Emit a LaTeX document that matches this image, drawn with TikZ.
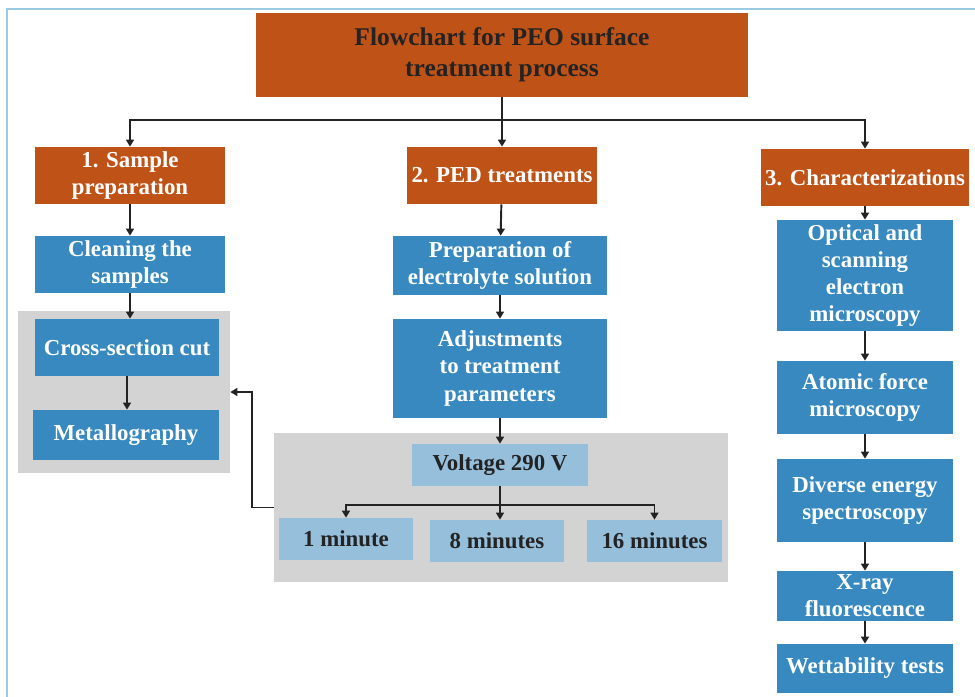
\documentclass[tikz,border=0pt]{standalone}
\usepackage{fontspec}
\setmainfont{Liberation Serif}
\usetikzlibrary{arrows.meta,positioning}
\definecolor{morange}{RGB}{191,82,23}
\definecolor{mblue}{RGB}{55,137,192}
\definecolor{mlblue}{RGB}{150,191,220}
\definecolor{mgray}{RGB}{211,211,211}
\definecolor{mframe}{RGB}{155,203,227}
\definecolor{mdark}{RGB}{35,35,35}

\begin{document}
\begin{tikzpicture}[x=0.02cm, y=-0.02cm,
    cat/.style={fill=morange, text=white, inner sep=0pt, align=center,
                font=\bfseries\fontsize{13}{15.5}\selectfont},
    box/.style={fill=mblue, text=white, inner sep=0pt, align=center,
                font=\bfseries\fontsize{13}{15.5}\selectfont},
    sub/.style={fill=mlblue, text=mdark, inner sep=0pt, align=center,
                minimum height=0.84cm, font=\bfseries\fontsize{13}{15.5}\selectfont},
    panel/.style={fill=mgray, inner sep=0pt},
    line/.style={mdark, line width=1.1pt},
    arr/.style={-{Triangle[length=4pt,width=4.5pt]}, mdark, line width=1.1pt},
  ]
    \useasboundingbox (0,0) rectangle (975,697);
    \draw[mframe, line width=1.7pt] (7,9) rectangle (990,712);

    % grey panels
    \node[panel, minimum width=4.24cm, minimum height=3.24cm] (leftp) at (124,392) {};
    \node[panel, minimum width=9.08cm, minimum height=2.98cm] (midp)  at (501,507.5) {};

    % title and the three branches
    \node[cat, text=mdark, minimum width=9.84cm, minimum height=1.68cm,
          font=\bfseries\fontsize{14.5}{17.6}\selectfont] (title) at (502,55)
          {Flowchart for PEO surface\\treatment process};
    \node[cat, minimum width=3.82cm, minimum height=1.14cm] (s1) at (130,175.5) {1. Sample\\preparation};
    \node[cat, minimum width=3.82cm, minimum height=1.14cm] (s2) at (502,175.5) {2. PED treatments};
    \node[cat, minimum width=4.16cm, minimum height=1.14cm] (s3) at (865,177.5) {3. Characterizations};

    % column 1
    \node[box, minimum width=3.82cm, minimum height=1.14cm] (clean) at (130,264.5) {Cleaning the\\samples};
    \node[box, minimum width=3.68cm, minimum height=1.14cm] (cross) at (127,347.5) {Cross-section cut};
    \node[box, minimum width=3.72cm, minimum height=1.0cm]  (metal) at (126,435) {Metallography};

    % column 2
    \node[box, minimum width=4.3cm, minimum height=1.18cm] (elec) at (500,265.5) {Preparation of\\electrolyte solution};
    \node[box, minimum width=4.3cm, minimum height=1.98cm] (adj)  at (500,368.5) {Adjustments\\to treatment\\parameters};
    \node[sub, minimum width=3.52cm] (volt) at (500,465) {Voltage 290 V};
    \node[sub, minimum width=2.68cm] (m1)  at (346,539) {1 minute};
    \node[sub, minimum width=2.68cm] (m8)  at (497,541) {8 minutes};
    \node[sub, minimum width=2.7cm]  (m16) at (654.5,541) {16 minutes};

    % column 3
    \node[box, minimum width=3.52cm, minimum height=2.22cm] (opt) at (865,275.5) {Optical and\\scanning\\electron\\microscopy};
    \node[box, minimum width=3.52cm, minimum height=1.46cm] (afm) at (865,397.5) {Atomic force\\microscopy};
    \node[box, minimum width=3.52cm, minimum height=1.66cm] (eds) at (865,500.5) {Diverse energy\\spectroscopy};
    \node[box, minimum width=3.52cm, minimum height=1.0cm]  (xrf) at (865,596) {X-ray\\fluorescence};
    \node[box, minimum width=3.52cm, minimum height=0.98cm] (wet) at (865,668.5) {Wettability tests};

    % connectors
    \coordinate (bus)   at (502,120);
    \coordinate (split) at (500,505);
    \draw[line] (title) -- (bus);
    \draw[arr] (bus) -| (s1);
    \draw[arr] (bus) -- (s2);
    \draw[arr] (bus) -| (s3);

    \draw[arr] (s1) -- (clean);
    \draw[arr] (clean) -- (clean|-cross.north);
    \draw[arr] (cross) -- (cross|-metal.north);

    \draw[arr] (s2) -- (elec);
    \draw[arr] (elec) -- (adj);
    \draw[arr] (adj) -- (volt);
    \draw[line] (volt) -- (split);
    \draw[arr] (split) -| (m1);
    \draw[arr] (split) -- (split|-m8.north);
    \draw[arr] (split) -| (m16);
    \draw[arr] (midp.west) -- ++(-22,0) |- (leftp.east);

    \draw[arr] (s3) -- (opt);
    \draw[arr] (opt) -- (afm);
    \draw[arr] (afm) -- (eds);
    \draw[arr] (eds) -- (xrf);
    \draw[arr] (xrf) -- (wet);
  \end{tikzpicture}
\end{document}
